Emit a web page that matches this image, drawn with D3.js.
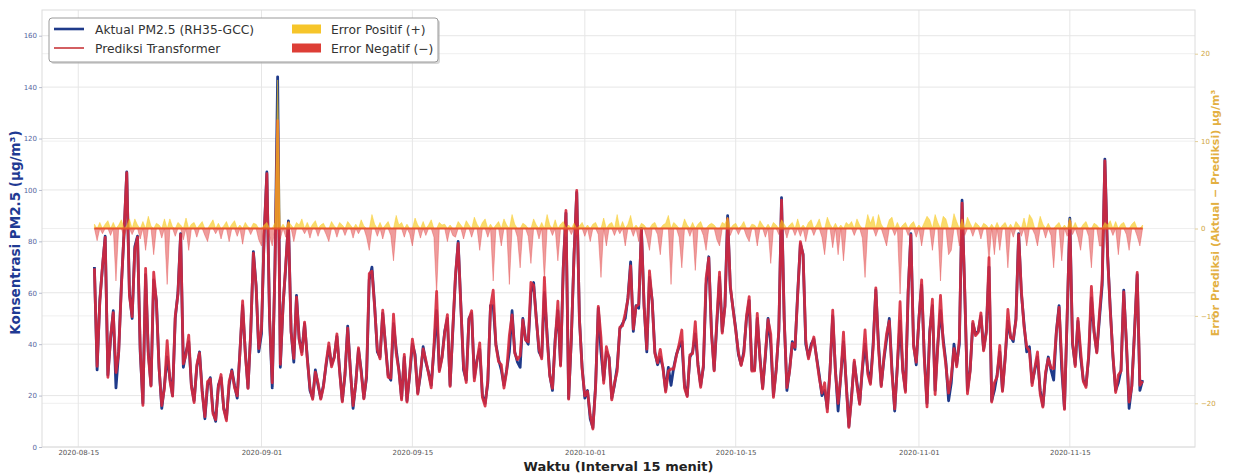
<!DOCTYPE html>
<html>
<head>
<meta charset="utf-8">
<script src="https://cdn.jsdelivr.net/npm/d3@7"></script>
<style>
  body { margin: 0; background: #fff; }
  svg { display: block; font-family: "DejaVu Sans", Arial, sans-serif; }
</style>
</head>
<body>
<svg id="chart" width="1233" height="473"></svg>
<script>
// 6-hourly samples, first one 2020-08-16 12:00 UTC
const startTime = Date.UTC(2020, 7, 16, 12);
const stepHours = 6;

// Aktual PM2.5 (ug/m3), one group per day (00, 06, 12, 18h)
const actualPM25 = [
  70, 30,
  57, 70, 82, 28,   42, 53, 23, 37,   63, 83, 107, 60,  50, 78, 82, 37,
  17, 67, 37, 24,   65, 57, 31, 15,   24, 35, 27, 20,   50, 60, 83, 31,
  37, 41, 24, 18,   31, 37, 22, 11,   24, 27, 14, 10,   24, 27, 15, 11,
  24, 30, 24, 19,   37, 55, 37, 23,   44, 76, 63, 37,   44, 83, 107, 50,
  23, 70, 144, 31,  55, 70, 88, 45,   33, 59, 42, 37,   48, 35, 22, 19,
  30, 24, 19, 24,   32, 39, 32, 35,   43, 30, 18, 28,   47, 30, 15, 25,
  38, 30, 19, 27,   65, 70, 55, 37,   35, 52, 40, 28,   26, 48, 38, 30,
  19, 35, 18, 28,   40, 36, 21, 28,   39, 33, 29, 24,   38, 53, 30, 35,
  45, 50, 24, 45,   66, 80, 55, 30,   26, 50, 52, 27,   34, 38, 20, 17,
  25, 55, 55, 40,   34, 30, 24, 30,   37, 53, 37, 33,   31, 50, 42, 40,
  60, 64, 50, 37,   35, 60, 44, 28,   22, 42, 53, 32,   70, 91, 19, 42,
  75, 99, 50, 31,   19, 22, 11, 7.5,  24, 54, 37, 26,   37, 35, 19, 24,
  31, 46, 48, 50,   58, 72, 45, 55,   54, 85, 55, 37,   66, 57, 37, 32,
  35, 31, 22, 31,   24, 31, 36, 39,   41, 24, 20, 35,   37, 44, 32, 24,
  31, 63, 74, 45,   30, 48, 66, 45,   55, 90, 62, 54,   46, 36, 32, 37,
  50, 57, 30, 30,   50, 35, 23, 35,   50, 40, 20, 30,   45, 97, 50, 22,
  30, 41, 38, 60,   79, 75, 40, 35,   40, 42, 35, 28,   20, 22, 15, 30,
  51, 30, 14, 28,   41, 25, 8, 20,    33, 25, 17, 30,   40, 30, 25, 40,
  61, 40, 24, 34,   42, 50, 30, 14,   32, 49, 30, 22,   60, 83, 40, 32,
  50, 63, 35, 17,   45, 55, 22, 40,   53, 42, 33, 18,   25, 40, 32, 40,
  96, 60, 22, 30,   48, 44, 45, 51,   38, 45, 70, 18,   22, 28, 37, 22,
  35, 49, 43, 41,   50, 83, 60, 48,   37, 39, 25, 30,   35, 22, 16, 28,
  35, 30, 26, 45,   55, 30, 15, 50,   89, 40, 32, 49,   35, 26, 24, 35,
  58, 45, 37, 50,   63, 112, 75, 54,  35, 22, 25, 30,   61, 40, 15, 24,
  45, 67, 22, 26
];

// Error = Aktual - Prediksi (ug/m3), same time steps
const errorVals = [
  0.5, -1.4,
  0.7, -0.6, 0.5, 0.9,   -0.8, 0.7, -6, 0.4,    1.0, -1.0, 0.3, 1.1,   -0.7, 1.1, 0.4, -1.2,
  0.8, -2.5, 1.4, 0.3,   -3.0, 0.6, 0.4, -1.1,  1.1, -6.4, 1.1, 0.2,   -0.9, 0.7, 0.4, -1.3,
  1.2, -2.5, 0.5, 0.7,   -1.0, 0.4, 0.8, -0.8,  -1.5, 0.5, 1.0, -0.6,  0.6, -1.2, 0.3, 0.8,
  -1.5, 0.5, 0.9, -0.9,  0.4, -1.8, 0.7, 0.2,   -0.7, 0.6, 0.5, -1.3,  -2.0, 0.4, 0.7, -0.9,
  -2.0, 0.7, 17.0, -1.2, 0.5, -1.0, 0.8, 0.4,   -1.5, 0.7, 0.4, 1.1,   -0.6, 0.7, -1.1, 0.5,
  0.9, -0.9, 0.4, 0.6,   -0.7, -1.5, 0.8, 0.3,  -1.0, 0.7, 0.4, -0.8,  0.8, 0.4, -1.1, 0.5,
  -0.6, 1.0, 0.3, -1.0,  -2.5, 1.6, 0.5, -0.9,  0.7, -1.2, 0.4, 0.8,   -0.8, -3.7, 1.5, 0.4,
  0.7, -1.0, 0.5, -0.6,  -2.0, 1.2, 0.4, -1.1,  0.8, -0.8, 0.4, 1.0,   -1.0, -7.5, 0.7, 0.4,
  0.5, -1.5, 0.4, -0.8,  -1.0, 0.8, 0.4, -1.2,  0.9, 0.4, -1.0, 1.3,   0.5, -2.5, 0.7, 1.1,
  -1.0, 0.5, -6.0, 0.4,  0.8, -2.0, 1.1, 0.4,   -6.4, 1.6, 0.5, -1.0,  -4.5, 0.6, 0.4, -0.9,
  -4.0, 1.1, 0.4, -1.2,  0.7, -6.0, 1.6, 0.4,   -0.8, 1.0, -3.7, 0.5,  0.8, -1.0, 0.4, -0.7,
  0.6, -0.8, 0.3, 0.7,   -0.9, 0.4, -1.5, 0.5,  0.7, -0.7, -5.6, 1.2,  -2.0, 0.5, 0.7, -0.8,
  1.6, -0.6, 0.8, -2.0,  0.5, 1.5, -0.9, 0.4,   -1.5, 0.6, 0.4, -1.1,  -2.5, 0.5, 0.7, -0.7,
  -3.0, 0.4, 0.6, 1.5,   -6.4, 0.7, 0.4, -1.0,  -4.5, 1.1, 0.4, -0.9,  0.7, -4.8, 0.5, 0.8,
  -0.8, -2.5, 0.4, 0.6,  0.4, -1.3, -2.0, 0.7,  0.5, 1.3, -0.8, 0.4,   0.6, -0.7, 0.3, 0.8,
  -0.9, -1.5, 0.5, 0.4,  -2.0, 0.9, 0.4, -1.0,  0.5, -4.0, 0.7, 0.4,   -0.7, 1.0, 0.5, -1.1,
  0.4, 0.7, -0.8, 1.1,   -0.9, 0.4, -1.5, 0.7,  1.0, -0.8, 0.4, 1.1,   -1.0, -3.0, 1.3, 0.5,
  -2.2, 0.6, -3.0, 0.4,  -3.7, 0.7, 0.4, 0.8,   -0.8, 1.1, 0.4, -1.1,  -5.6, 1.6, 0.6, 1.4,
  -0.9, 1.6, 0.5, -1.0,  -2.0, 1.0, 1.3, -0.8,  0.7, -7.5, 0.4, 0.7,   -0.8, 0.5, 0.8, -1.0,
  0.4, -2.0, 0.7, 1.4,   1.0, -2.5, 1.6, 0.7,   -6.0, 1.4, 1.1, -3.0,  -2.5, 1.7, 0.8, -2.0,
  1.1, -0.8, 1.3, 0.6,   -0.9, 0.7, 0.4, -1.2,  0.6, 0.4, -3.7, 0.5,   -3.0, 0.7, -2.5, 0.4,
  0.7, -4.5, 0.5, -1.0,  0.8, 0.4, -0.9, 1.2,   -2.0, 1.6, 1.1, -0.7,  -2.0, 1.4, 0.5, -1.1,
  0.6, -0.8, -4.5, 0.4,  0.7, -3.7, 0.4, -0.9,  1.2, -0.7, 0.7, -1.0,  -2.5, 0.5, 0.8, -0.9,
  -4.5, 0.6, 0.4, -2.0,  -2.0, 0.7, 0.4, 0.9,   -0.8, 0.8, -3.0, 0.5,  0.7, -0.7, -2.5, 0.5,
  0.8, -0.9, -2.0, 0.4
];

const xTickDates = ["2020-08-15", "2020-09-01", "2020-09-15", "2020-10-01", "2020-10-15", "2020-11-01", "2020-11-15"];
const leftTicks = [0, 20, 40, 60, 80, 100, 120, 140, 160];
const rightTicks = [-20, -10, 0, 10, 20];

const plot = { left: 42, right: 1195, top: 10, bottom: 447 };

const svg = d3.select("#chart");

const rows = actualPM25.map((a, i) => ({
  t: new Date(startTime + i * stepHours * 3600e3),
  actual: a,
  err: errorVals[i],
  pred: a - errorVals[i]
}));

// matplotlib-like 5% x margins
const t0 = rows[0].t.getTime(), t1 = rows[rows.length - 1].t.getTime();
const pad = (t1 - t0) * 0.05;
const x = d3.scaleUtc()
  .domain([new Date(t0 - pad), new Date(t1 + pad)])
  .range([plot.left, plot.right]);
const y = d3.scaleLinear().domain([0, 170]).range([plot.bottom, plot.top]);
const y2 = d3.scaleLinear().domain([-25, 25]).range([plot.bottom, plot.top]);

const xTicks = xTickDates.map(s => new Date(s + "T00:00:00Z"));

// Grid
const grid = svg.append("g");
grid.selectAll(".gl").data(leftTicks).join("line")
  .attr("x1", plot.left).attr("x2", plot.right)
  .attr("y1", d => y(d)).attr("y2", d => y(d))
  .attr("stroke", "#e6e6e6").attr("stroke-width", 1);
grid.selectAll(".gr").data(rightTicks).join("line")
  .attr("x1", plot.left).attr("x2", plot.right)
  .attr("y1", d => y2(d)).attr("y2", d => y2(d))
  .attr("stroke", "#efefef").attr("stroke-width", 1);
grid.selectAll(".gx").data(xTicks).join("line")
  .attr("x1", d => x(d)).attr("x2", d => x(d))
  .attr("y1", plot.top).attr("y2", plot.bottom)
  .attr("stroke", "#e6e6e6").attr("stroke-width", 1);

// Frame
svg.append("rect")
  .attr("x", plot.left).attr("y", plot.top)
  .attr("width", plot.right - plot.left).attr("height", plot.bottom - plot.top)
  .attr("fill", "none").attr("stroke", "#dcdcdc").attr("stroke-width", 1);

// Lines
const lineActual = d3.line().x(d => x(d.t)).y(d => y(d.actual));
const linePred = d3.line().x(d => x(d.t)).y(d => y(d.pred));

svg.append("path").datum(rows)
  .attr("d", lineActual)
  .attr("fill", "none").attr("stroke", "#1f3a8a")
  .attr("stroke-width", 2.8).attr("stroke-linejoin", "round");
svg.append("path").datum(rows)
  .attr("d", linePred)
  .attr("fill", "none").attr("stroke", "#d6283c").attr("stroke-opacity", 0.9)
  .attr("stroke-width", 2.8).attr("stroke-linejoin", "round");

// Error fills on the right axis
const areaPos = d3.area().x(d => x(d.t)).y0(y2(0)).y1(d => y2(Math.max(d.err, 0)));
const areaNeg = d3.area().x(d => x(d.t)).y0(y2(0)).y1(d => y2(Math.min(d.err, 0)));

svg.append("path").datum(rows)
  .attr("d", areaPos)
  .attr("fill", "#f7c71c").attr("fill-opacity", 0.65)
  .attr("stroke", "#f7c71c").attr("stroke-width", 0.6).attr("stroke-opacity", 0.7);
svg.append("path").datum(rows)
  .attr("d", areaNeg)
  .attr("fill", "#e03a3a").attr("fill-opacity", 0.5)
  .attr("stroke", "#e03a3a").attr("stroke-width", 0.6).attr("stroke-opacity", 0.6);

svg.append("line")
  .attr("x1", x(rows[0].t)).attr("x2", x(rows[rows.length - 1].t))
  .attr("y1", y2(0)).attr("y2", y2(0))
  .attr("stroke", "#e5532e").attr("stroke-width", 2);

// Axes
const axL = svg.append("g").attr("transform", `translate(${plot.left},0)`)
  .call(d3.axisLeft(y).tickValues(leftTicks).tickSize(3).tickPadding(2));
axL.select(".domain").remove();
axL.selectAll("line").attr("stroke", "#b8bccc");
axL.selectAll("text").attr("fill", "#5565a0").attr("font-size", 7)
  .attr("font-family", "'DejaVu Sans', Arial, sans-serif");

const axR = svg.append("g").attr("transform", `translate(${plot.right},0)`)
  .call(d3.axisRight(y2).tickValues(rightTicks).tickSize(3).tickPadding(3));
axR.select(".domain").remove();
axR.selectAll("line").attr("stroke", "#e3cf9a");
axR.selectAll("text").attr("fill", "#cfa53c").attr("font-size", 7)
  .attr("font-family", "'DejaVu Sans', Arial, sans-serif");

const axB = svg.append("g").attr("transform", `translate(0,${plot.bottom})`)
  .call(d3.axisBottom(x).tickValues(xTicks).tickSize(0).tickPadding(3)
    .tickFormat(d3.utcFormat("%Y-%m-%d")));
axB.select(".domain").remove();
axB.selectAll("text").attr("fill", "#555").attr("font-size", 7)
  .attr("font-family", "'DejaVu Sans', Arial, sans-serif");

// Axis titles
svg.append("text")
  .attr("transform", `translate(20,${(plot.top + plot.bottom) / 2 + 4}) rotate(-90)`)
  .attr("text-anchor", "middle")
  .attr("font-size", 13.5).attr("font-weight", "bold").attr("fill", "#1f3a93")
  .text("Konsentrasi PM2.5 (µg/m³)");

svg.append("text")
  .attr("transform", `translate(1219,213) rotate(-90)`)
  .attr("text-anchor", "middle")
  .attr("font-size", 11).attr("font-weight", "bold").attr("fill", "#e3b042")
  .text("Error Prediksi (Aktual − Prediksi) µg/m³");

svg.append("text")
  .attr("x", (plot.left + plot.right) / 2).attr("y", 471)
  .attr("text-anchor", "middle")
  .attr("font-size", 13).attr("font-weight", "bold").attr("fill", "#222")
  .text("Waktu (Interval 15 menit)");

// Legend
const lg = svg.append("g").attr("transform", "translate(49,18)");
lg.append("rect").attr("x", 2).attr("y", 2).attr("width", 389).attr("height", 44)
  .attr("rx", 3).attr("fill", "#bdbdbd").attr("opacity", 0.6);
lg.append("rect").attr("width", 389).attr("height", 44)
  .attr("rx", 3).attr("fill", "#fff").attr("stroke", "#9a9a9a").attr("stroke-width", 1);

const legendLines = [
  { label: "Aktual PM2.5 (RH35-GCC)", color: "#1f3a8a", w: 2.6 },
  { label: "Prediksi Transformer", color: "#c8373a", w: 1.6 }
];
const legendPatches = [
  { label: "Error Positif (+)", color: "#f6c52a" },
  { label: "Error Negatif (−)", color: "#dd3e36" }
];
legendLines.forEach((d, i) => {
  const yy = 11 + i * 19;
  lg.append("line").attr("x1", 5).attr("x2", 35).attr("y1", yy).attr("y2", yy)
    .attr("stroke", d.color).attr("stroke-width", d.w);
  lg.append("text").attr("x", 46).attr("y", yy + 4.5)
    .attr("font-size", 12.3).attr("fill", "#333").text(d.label);
});
legendPatches.forEach((d, i) => {
  const yy = 11 + i * 19;
  lg.append("rect").attr("x", 243).attr("y", yy - 4.5).attr("width", 29).attr("height", 9)
    .attr("fill", d.color);
  lg.append("text").attr("x", 282).attr("y", yy + 4.5)
    .attr("font-size", 12.3).attr("fill", "#333").text(d.label);
});
</script>
</body>
</html>
